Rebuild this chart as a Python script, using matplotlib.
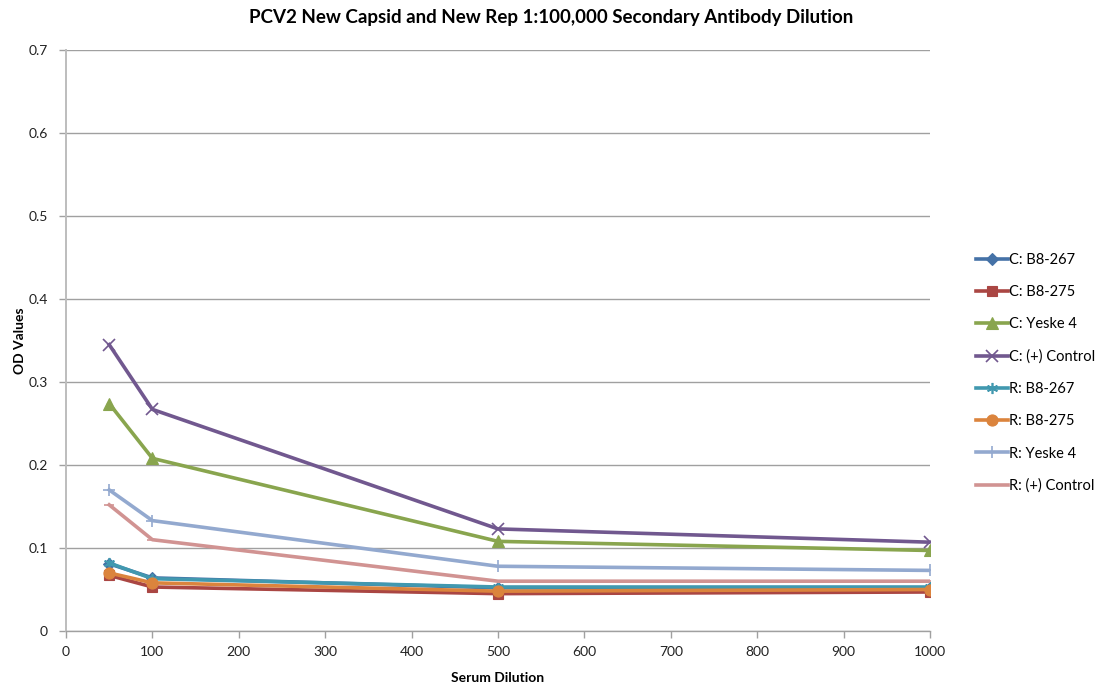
import matplotlib
matplotlib.use("Agg")
import matplotlib.pyplot as plt

plt.rcParams['font.family'] = ['Lato', 'DejaVu Sans']

dilution = [50, 100, 500, 1000]

series_names = [
    "C: B8-267", "C: B8-275", "C: Yeske 4", "C: (+) Control",
    "R: B8-267", "R: B8-275", "R: Yeske 4", "R: (+) Control",
]
c_b8_267 = [0.081, 0.064, 0.052, 0.052]
c_b8_275 = [0.067, 0.053, 0.045, 0.047]
c_yeske4 = [0.274, 0.208, 0.108, 0.097]
c_control = [0.345, 0.267, 0.123, 0.107]
r_b8_267 = [0.082, 0.063, 0.053, 0.053]
r_b8_275 = [0.070, 0.058, 0.048, 0.050]
r_yeske4 = [0.170, 0.133, 0.078, 0.073]
r_control = [0.152, 0.110, 0.060, 0.060]

values = [c_b8_267, c_b8_275, c_yeske4, c_control,
          r_b8_267, r_b8_275, r_yeske4, r_control]

colors = ["#4572A7", "#AA4643", "#89A54E", "#71588F",
          "#4198AF", "#DB843D", "#93A9CF", "#D19392"]
markers = ["D", "s", "^", "x", (6, 2, 0), "o", "+", "_"]
msizes = [6, 7, 8, 8, 8, 8, 9, 7]

fig = plt.figure(figsize=(11.02, 6.89), dpi=100)
ax = fig.add_axes([66 / 1102, 58 / 689, 864 / 1102, 581 / 689])

for name, vals, col, mk, ms in zip(series_names, values, colors, markers, msizes):
    ax.plot(dilution, vals, color=col, lw=2.6, marker=mk, markersize=ms,
            markeredgewidth=1.2 if mk in ("x", "+", "_", (6, 2, 0)) else 0.8,
            markeredgecolor=col, markerfacecolor=col, label=name,
            solid_joinstyle="round", zorder=3)

ax.set_xlim(0, 1000)
ax.set_ylim(0, 0.7)
ax.set_xticks(range(0, 1001, 100))
ax.set_yticks([0, 0.1, 0.2, 0.3, 0.4, 0.5, 0.6, 0.7])
ax.set_yticklabels(["0", "0.1", "0.2", "0.3", "0.4", "0.5", "0.6", "0.7"])
ax.grid(axis="y", color="#a0a0a0", lw=1.0, zorder=0)
ax.set_axisbelow(True)

for side in ("top", "right"):
    ax.spines[side].set_visible(False)
ax.spines["left"].set_color("#bdbdbd")
ax.spines["left"].set_linewidth(1.4)
ax.spines["bottom"].set_color("#a0a0a0")
ax.spines["bottom"].set_linewidth(1.0)
ax.tick_params(axis="both", labelsize=10, colors="#222222", length=5,
               width=1, direction="out")
ax.tick_params(axis="x", color="#a0a0a0", pad=6)
ax.tick_params(axis="y", color="#a0a0a0", pad=8)

ax.set_xlabel("Serum Dilution", fontsize=10, fontweight="bold", labelpad=10)
ax.set_ylabel("OD Values", fontsize=10, fontweight="bold", labelpad=2)
fig.text(0.5, 1 - 17 / 689,
         "PCV2 New Capsid and New Rep 1:100,000 Secondary Antibody Dilution",
         ha="center", va="center", fontsize=13.5, fontweight="bold")

leg = ax.legend(loc="upper left", bbox_to_anchor=((970 - 66) / 864, (631 - 247) / 581),
                frameon=False, fontsize=10.5, handlelength=2.2, labelspacing=1.25,
                handletextpad=0.1, borderaxespad=0)

fig.savefig("out.png", dpi=100)
